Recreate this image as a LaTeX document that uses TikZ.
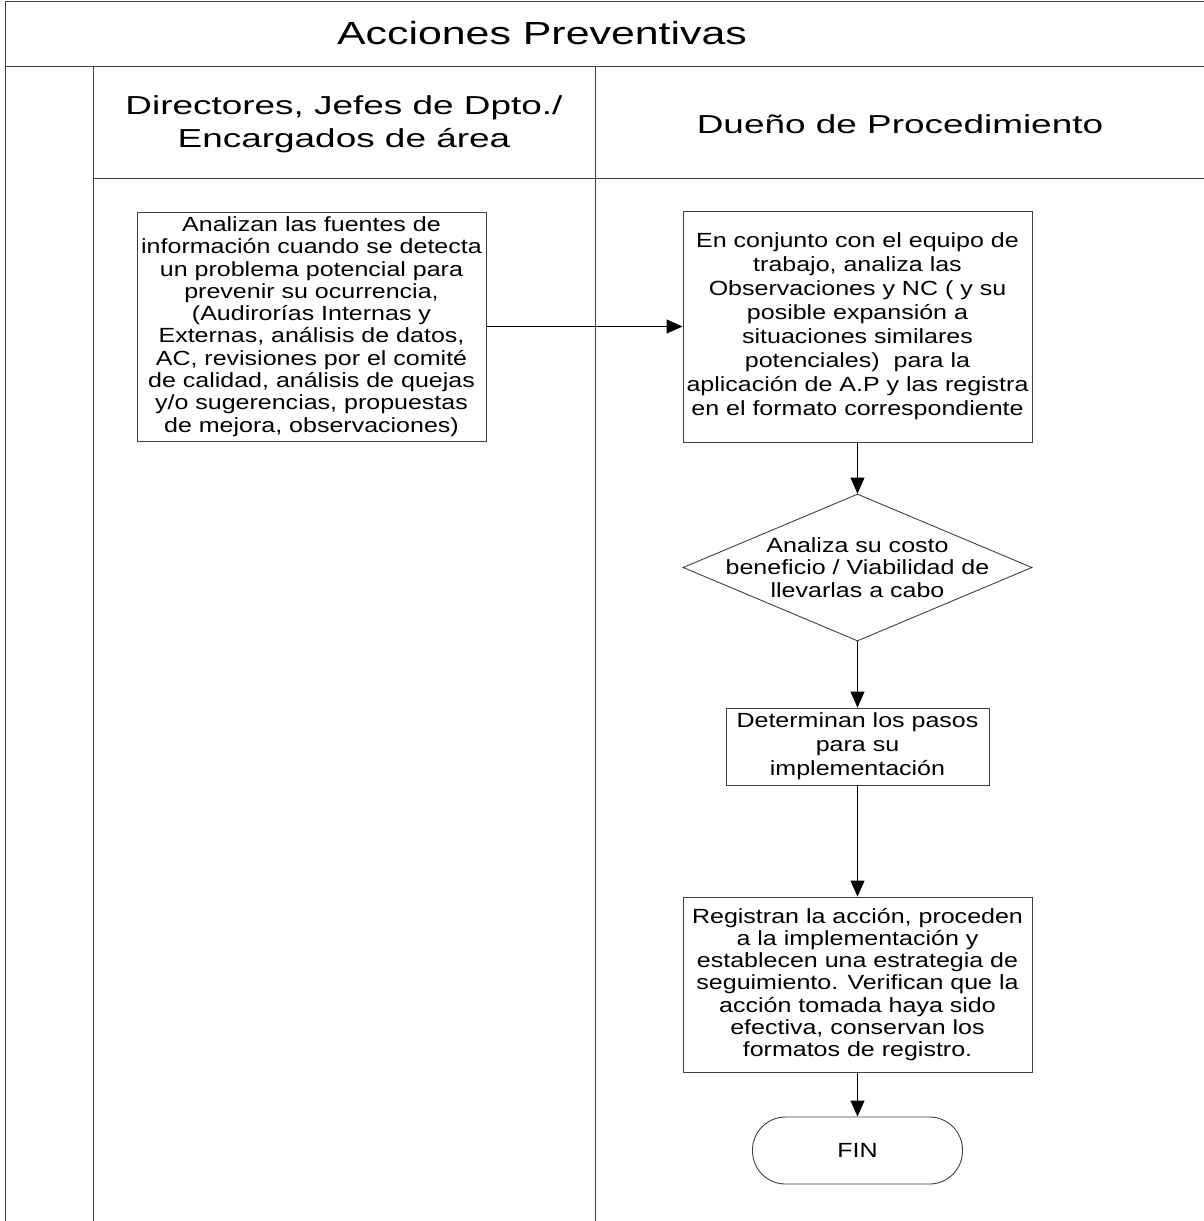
\documentclass[tikz,border=0pt]{standalone}
\usepackage{fontspec}
\setmainfont{Liberation Sans}
\newfontfamily\titulofont[FakeStretch=1.34]{Liberation Sans}
\newfontfamily\carrilfont[FakeStretch=1.42]{Liberation Sans}
\newfontfamily\pasofont[FakeStretch=1.22]{Liberation Sans}
\usetikzlibrary{arrows.meta,shapes.geometric}

\tikzset{
  lane/.style={draw=black!75, line width=1pt},
  carril/.style={align=center, font=\carrilfont\fontsize{26}{33}\selectfont},
  paso/.style={draw=black!75, line width=0.9pt, align=center, inner sep=0pt,
    font=\pasofont\fontsize{20.5}{22.3}\selectfont},
  holgado/.style={font=\pasofont\fontsize{20.5}{24}\selectfont},
  decision/.style={draw=black!75, line width=0.9pt, diamond, inner sep=0pt},
  flujo/.style={-{Triangle[length=16pt,width=14pt]}, line width=0.9pt},
}

\begin{document}
\begin{tikzpicture}[x=1pt,y=-1pt]
  \useasboundingbox (0,0) rectangle (1204,1221);
  % marco y carriles
  \draw[lane] (1204,1) -- (5,1) -- (5,1221);
  \draw[lane] (5,66) -- (1204,66);
  \draw[lane] (93,178) -- (1204,178);
  \foreach \xLane in {93,595}
    \draw[lane] (\xLane,66) -- (\xLane,1221);

  \node[font=\titulofont\fontsize{32}{36}\selectfont] (titulo) at (542,33) {Acciones Preventivas};
  \node[carril] (directores) at (344,124) {Directores, Jefes de Dpto./\\Encargados de área};
  \node[carril] (dueno) at (900,124) {Dueño de Procedimiento};

  % pasos
  \node[paso, minimum width=349, minimum height=229] (analizan) at (311.5,326.5)
    {Analizan las fuentes de\\información cuando se detecta\\un problema potencial para\\prevenir su ocurrencia,\\(Audirorías Internas y\\Externas, análisis de datos,\\AC, revisiones por el comité\\de calidad, análisis de quejas\\y/o sugerencias, propuestas\\de mejora, observaciones)};
  \node[paso, holgado, minimum width=349, minimum height=231] (conjunto) at (857.5,326.5)
    {En conjunto con el equipo de\\trabajo, analiza las\\Observaciones y NC ( y su\\posible expansión a\\situaciones similares\\potenciales)\ \ para la\\aplicación de A.P y las registra\\en el formato correspondiente};
  \node[decision, minimum width=349, minimum height=147,
    label={[paso, draw=none]center:Analiza su costo\\beneficio / Viabilidad de\\llevarlas a cabo}] (costo) at (857.5,567.5) {};
  \node[paso, holgado, minimum width=263, minimum height=77] (pasos) at (857.5,746.5)
    {Determinan los pasos\\para su\\implementación};
  \node[paso, minimum width=349, minimum height=175] (registran) at (857.5,984.5)
    {Registran la acción, proceden\\a la implementación y\\establecen una estrategia de\\seguimiento. Verifican que la\\acción tomada haya sido\\efectiva, conservan los\\formatos de registro.};
  \node[paso, minimum width=210, minimum height=67, rounded corners=33pt] (fin) at (857.5,1150.5) {FIN};

  \draw[flujo] (analizan) -- (conjunto);
  \draw[flujo] (conjunto) -- (costo);
  \draw[flujo] (costo) -- (pasos);
  \draw[flujo] (pasos) -- (registran);
  \draw[flujo] (registran) -- (fin);
\end{tikzpicture}
\end{document}
